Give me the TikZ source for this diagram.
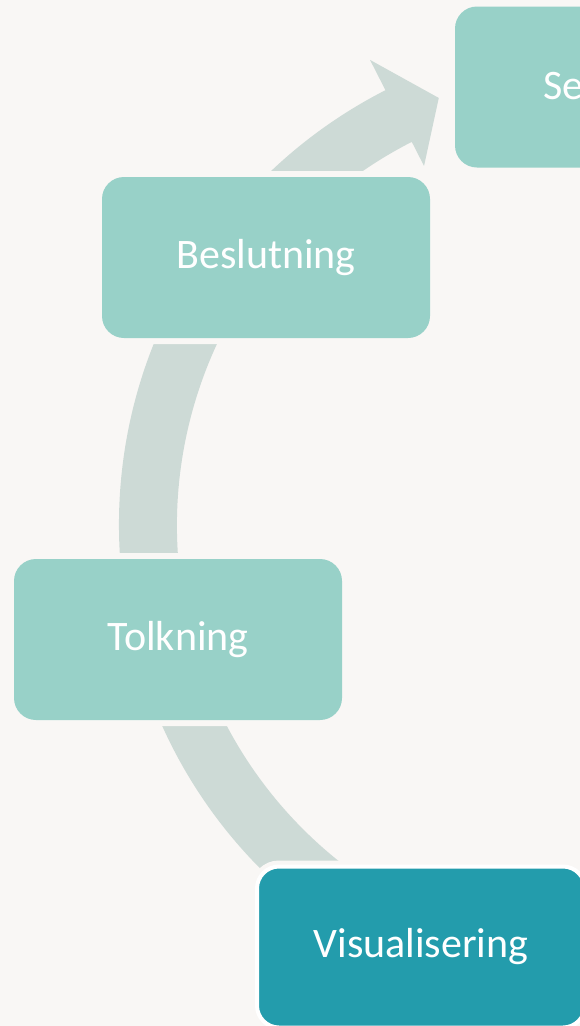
\documentclass[tikz,border=0pt]{standalone}
\usepackage{fontspec}
\setmainfont{Carlito}
\usetikzlibrary{calc}

\definecolor{bgcol}{HTML}{F9F7F5}
\definecolor{boxcol}{HTML}{98D1C8}
\definecolor{bandcol}{HTML}{CDDAD6}
\definecolor{activecol}{HTML}{239CAC}

\tikzset{
  box/.style={fill=boxcol, rounded corners=22pt, minimum width=328pt, minimum height=161pt,
    inner sep=0pt, text=white, font=\fontsize{42}{50}\selectfont,
    preaction={draw=bgcol, line width=12pt}},
  activebox/.style={box, fill=activecol, draw=white, line width=4pt, preaction={}},
  band/.style={fill=bandcol}
}

\begin{document}
\begin{tikzpicture}[x=1pt,y=-1pt]
            \fill[bgcol] (0,0) rectangle (580,1026);
            \useasboundingbox (0,0) rectangle (580,1026);
            % centre of the cycle
            \coordinate (c) at (607,525);
            \fill[band] ($(c)+(125:488)$) arc[start angle=125, end angle=243, radius=488]
                -- ($(c)+(243:522)$) -- ($(c)+(248.5:459)$) -- ($(c)+(243:403)$)
                -- ($(c)+(243:430)$) arc[start angle=243, end angle=125, radius=430] -- cycle;
            \node[box] (samling) at (619,87) {};
            \node[text=white, font=\fontsize{42}{50}\selectfont, anchor=base west, inner sep=0pt] (samlingtxt) at (543,99) {Se};
            \node[box] (beslutning) at (266,257.5) {Beslutning};
            \node[box] (tolkning) at (178,639.5) {Tolkning};
            \node[activebox] (visualisering) at (421,947) {Visualisering};
\end{tikzpicture}
\end{document}
